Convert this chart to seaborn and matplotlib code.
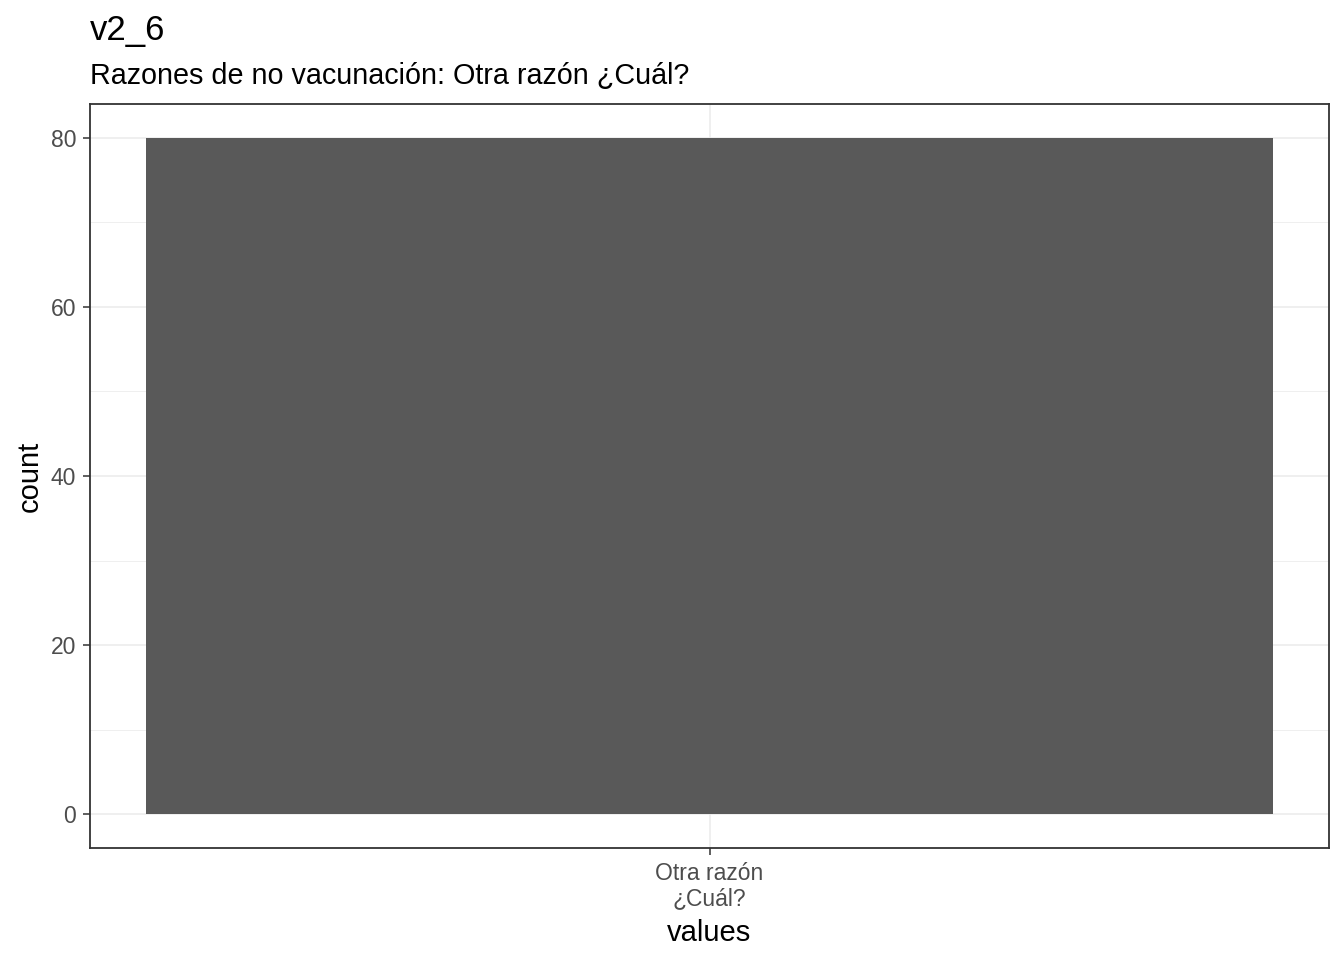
import numpy as np
import pandas as pd
import matplotlib
matplotlib.use("Agg")
import matplotlib.pyplot as plt
import seaborn as sns
from matplotlib.ticker import MultipleLocator

# data
values = ["Otra razón\n¿Cuál?"]
counts = [80]

df = pd.DataFrame({"values": values, "count": counts})

sns.set_theme(style="white")
plt.rcParams['font.family'] = ['Liberation Sans', 'DejaVu Sans']

fig = plt.figure(figsize=(13.44, 9.6), dpi=100)
ax = fig.add_axes([90 / 1344, 112 / 960, 1239 / 1344, 744 / 960])

sns.barplot(data=df, x="values", y="count", color="#595959", width=0.9,
            saturation=1, linewidth=0, ax=ax, zorder=2)

ax.set_xlim(-0.4945, 0.4945)
ax.set_ylim(-4, 84)
ax.yaxis.set_major_locator(MultipleLocator(20))
ax.yaxis.set_minor_locator(MultipleLocator(10))

ax.grid(True, which="major", color="#EBEBEB", linewidth=1.1, zorder=0)
ax.grid(True, which="minor", axis="y", color="#EBEBEB", linewidth=0.55, zorder=0)
ax.set_axisbelow(True)

for s in ax.spines.values():
    s.set_color("#333333")
    s.set_linewidth(1.3)

ax.tick_params(axis="both", which="major", length=5, width=1.1, color="#333333",
               labelcolor="#4D4D4D", labelsize=16.5, bottom=True, left=True)
ax.tick_params(axis="y", pad=5)
ax.tick_params(axis="x", pad=5)
for lbl in ax.get_xticklabels():
    lbl.set_linespacing(1.15)

ax.set_xlabel("values", fontsize=21, color="black", labelpad=6)
ax.set_ylabel("count", fontsize=21, color="black", labelpad=5)

fig.text(90 / 1344, 1 - 40 / 960, "v2_6", fontsize=25, color="black", ha="left", va="baseline")
fig.text(90 / 1344, 1 - 84 / 960, "Razones de no vacunación: Otra razón ¿Cuál?", fontsize=20.7,
         color="black", ha="left", va="baseline")

fig.savefig("out.png", dpi=100)
